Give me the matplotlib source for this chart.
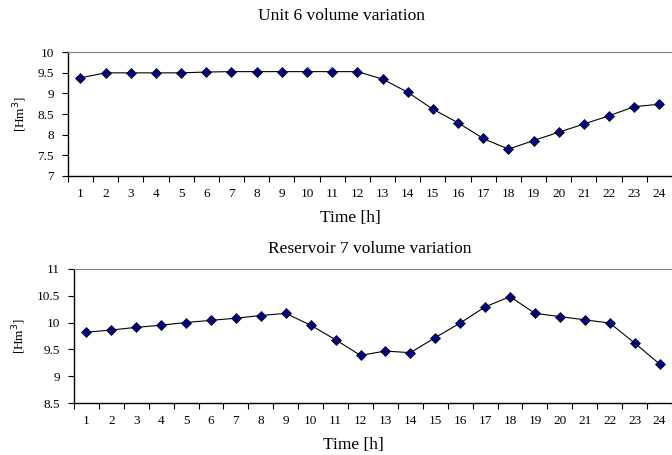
import matplotlib.pyplot as plt
from matplotlib.ticker import FuncFormatter

plt.rcParams['font.family'] = ['Liberation Serif', 'DejaVu Serif']

hours = list(range(1, 25))
unit6 = [9.38, 9.50, 9.50, 9.50, 9.50, 9.52, 9.53, 9.53, 9.53, 9.53, 9.53, 9.53,
         9.35, 9.03, 8.62, 8.29, 7.91, 7.65, 7.86, 8.06, 8.26, 8.46, 8.68, 8.74]
res7 = [9.82, 9.86, 9.91, 9.95, 10.00, 10.04, 10.08, 10.13, 10.17, 9.95, 9.68, 9.39,
        9.47, 9.44, 9.72, 9.99, 10.29, 10.48, 10.17, 10.11, 10.05, 9.99, 9.62, 9.23]

# title, values, y range, axes rect, title pad, title x, xlabel x
panels = [
    ("Unit 6 volume variation", unit6, (7, 10), [0.101, 0.6132, 0.899, 0.272], 23, 0.453, 0.467),
    ("Reservoir 7 volume variation", res7, (8.5, 11), [0.110, 0.1136, 0.890, 0.296], 11, 0.495, 0.468),
]

fig = plt.figure(figsize=(6.72, 4.55), dpi=100)
fmt = FuncFormatter(lambda v, p: f"{v:g}")

for title, vals, ylim, rect, tpad, tx, lx in panels:
    ax = fig.add_axes(rect)
    ax.plot(hours, vals, color="black", linewidth=0.8, marker="D", markersize=5,
            markerfacecolor="#000080", markeredgecolor="black", markeredgewidth=0.5)
    ax.set_xlim(0.5, 24.5)
    ax.set_ylim(*ylim)
    ax.set_yticks([ylim[0] + 0.5 * i for i in range(int((ylim[1] - ylim[0]) / 0.5) + 1)])
    ax.yaxis.set_major_formatter(fmt)
    ax.set_xticks([h - 0.5 for h in hours] + [24.5])
    ax.set_xticklabels([])
    ax.set_xticks(hours, minor=True)
    ax.set_xticklabels([str(h) for h in hours], minor=True)
    ax.tick_params(axis="x", which="major", direction="out", length=4, width=0.8)
    ax.tick_params(axis="x", which="minor", length=0, pad=8.5, labelsize=9.5)
    ax.tick_params(axis="y", direction="out", length=4, width=0.8, labelsize=9.5, pad=6)
    ax.spines["right"].set_visible(False)
    ax.spines["top"].set_color("#808080")
    ax.spines["left"].set_linewidth(1.0)
    ax.spines["bottom"].set_linewidth(1.0)
    ax.set_title(title, fontsize=12.5, pad=tpad, x=tx)
    ax.set_xlabel("Time [h]", fontsize=12.5, labelpad=7)
    ax.xaxis.label.set_x(lx)
    ax.set_ylabel("[Hm$^3$]", fontsize=9.5, labelpad=6)

fig.savefig("out.png", dpi=100)
